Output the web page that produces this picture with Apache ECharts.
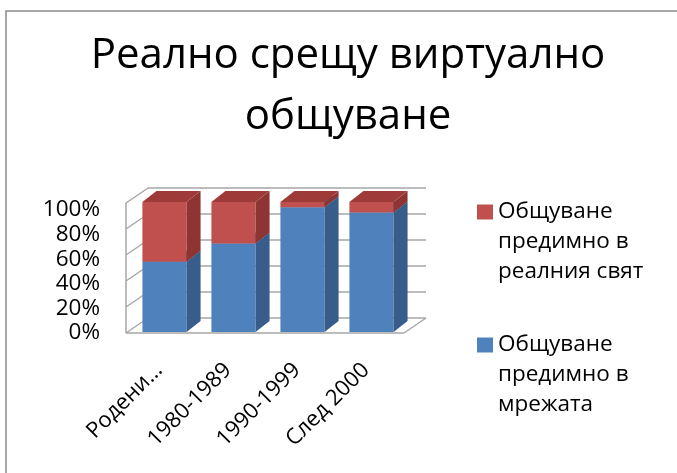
<!DOCTYPE html>
<html>
<head>
<meta charset="utf-8">
<script src="https://cdn.jsdelivr.net/npm/echarts@6/dist/echarts.min.js"></script>
<style>
  html, body { margin: 0; padding: 0; background: #ffffff; }
  #chart { width: 677px; height: 473px; }
</style>
</head>
<body>
<div id="chart"></div>
<script>
// Age groups and shares (percent) for each way of communicating
const categories = ['Родени…', '1980-1989', '1990-1999', 'След 2000'];
const onlineShare = [54, 68, 96, 92];   // Общуване предимно в мрежата
const offlineShare = [46, 32, 4, 8];    // Общуване предимно в реалния свят
const valueTicks = [0, 20, 40, 60, 80, 100];

const seriesNames = {
  online: 'Общуване предимно в мрежата',
  offline: 'Общуване предимно в реалния свят'
};

const FONT = 'Open Sans';

// pseudo-3D depth of the box walls and of the columns
const WALL_DX = 22, WALL_DY = -15;
const BAR_DX = 14, BAR_DY = -11;
const BAR_RATIO = 0.64;
const WALL_COLOR = '#a6a6a6';

function columnRenderer(front, side, top) {
  return function (params, api) {
    const cat = api.value(0);
    const lo = api.coord([cat, api.value(1)]);
    const hi = api.coord([cat, api.value(2)]);
    const w = api.size([1, 0])[0] * BAR_RATIO;
    const x0 = lo[0] - w / 2, x1 = lo[0] + w / 2;
    const yb = lo[1], yt = hi[1];
    return {
      type: 'group',
      children: [
        { type: 'rect', shape: { x: x0, y: yt, width: w, height: yb - yt }, style: { fill: front } },
        { type: 'polygon', shape: { points: [[x1, yt], [x1 + BAR_DX, yt + BAR_DY], [x1 + BAR_DX, yb + BAR_DY], [x1, yb]] }, style: { fill: side } },
        { type: 'polygon', shape: { points: [[x0, yt], [x1, yt], [x1 + BAR_DX, yt + BAR_DY], [x0 + BAR_DX, yt + BAR_DY]] }, style: { fill: top } }
      ]
    };
  };
}

function wallRenderer(params, api) {
  const cs = params.coordSys;
  const xL = cs.x - 4, xR = cs.x + cs.width - 2;
  const lineStyle = { stroke: WALL_COLOR, lineWidth: 1.5, fill: null };
  const children = [];
  const yOf = v => api.coord([0, v])[1] + 1;
  valueTicks.forEach(v => {
    const y = yOf(v);
    // back wall gridline
    children.push({ type: 'line', shape: { x1: xL + WALL_DX, y1: y + WALL_DY, x2: xR + WALL_DX, y2: y + WALL_DY }, style: lineStyle });
    // side wall gridline
    children.push({ type: 'line', shape: { x1: xL, y1: y, x2: xL + WALL_DX, y2: y + WALL_DY }, style: lineStyle });
  });
  const y0 = yOf(0), y100 = yOf(100);
  children.push({ type: 'line', shape: { x1: xL, y1: y0, x2: xL, y2: y100 }, style: lineStyle });
  children.push({ type: 'line', shape: { x1: xL, y1: y0, x2: xR, y2: y0 }, style: lineStyle });
  children.push({ type: 'line', shape: { x1: xR, y1: y0, x2: xR + WALL_DX, y2: y0 + WALL_DY }, style: lineStyle });
  return { type: 'group', children: children };
}

const onlineData = categories.map((c, i) => [i, 0, onlineShare[i]]);
const offlineData = categories.map((c, i) => [i, onlineShare[i], onlineShare[i] + offlineShare[i]]);

// legend text: first line level with the swatch, the rest wrapped below it
function wrapName(name) {
  return '\n\n' + name.replace(' предимно в ', '\nпредимно в\n');
}

const legendText = { fontFamily: FONT, fontSize: 22.5, color: '#000', lineHeight: 30 };

const chart = echarts.init(document.getElementById('chart'), null, { renderer: 'canvas' });
chart.setOption({
  backgroundColor: '#ffffff',
  animation: false,
  title: {
    text: 'Реално срещу виртуално\nобщуване',
    left: 343, top: 21, textAlign: 'center',
    textStyle: { fontFamily: FONT, fontSize: 42, fontWeight: 'normal', color: '#000', lineHeight: 61 }
  },
  legend: [
    {
      data: [seriesNames.offline], left: 477, top: 137, padding: 0,
      icon: 'rect', itemWidth: 16, itemHeight: 15,
      formatter: wrapName, textStyle: legendText, selectedMode: false
    },
    {
      data: [seriesNames.online], left: 477, top: 270, padding: 0,
      icon: 'rect', itemWidth: 16, itemHeight: 15,
      formatter: wrapName, textStyle: legendText, selectedMode: false
    }
  ],
  graphic: [
    { type: 'polyline', shape: { points: [[6, 473], [6, 11], [677, 11]] }, style: { stroke: '#8c8c8c', lineWidth: 1.5, fill: null }, silent: true }
  ],
  grid: [
    { left: 130, right: 271, top: 202, bottom: 141 },
    { left: 130, right: 271, top: 210, bottom: 140 }
  ],
  xAxis: [
    {
      type: 'category', gridIndex: 0, data: categories,
      axisLine: { show: false }, axisTick: { show: false },
      axisLabel: { rotate: 45, interval: 0, margin: 29, padding: [0, 8, 0, 0], fontFamily: FONT, fontSize: 22, color: '#000' }
    },
    { type: 'value', gridIndex: 1, show: false }
  ],
  yAxis: [
    { type: 'value', gridIndex: 0, min: 0, max: 100, interval: 20, show: false },
    {
      type: 'value', gridIndex: 1, min: 0, max: 100, interval: 20,
      axisLine: { show: false }, axisTick: { show: false }, splitLine: { show: false },
      axisLabel: { margin: 30, formatter: '{value}%', fontFamily: FONT, fontSize: 22.5, color: '#000' }
    }
  ],
  series: [
    {
      type: 'custom', name: 'walls', xAxisIndex: 0, yAxisIndex: 0, z: 1,
      renderItem: wallRenderer, data: [[0, 0]], silent: true
    },
    {
      type: 'custom', name: seriesNames.online, xAxisIndex: 0, yAxisIndex: 0, z: 2,
      itemStyle: { color: '#4f81bd' },
      encode: { x: 0, y: [1, 2] },
      renderItem: columnRenderer('#4f81bd', '#385d8a', '#4473ab'),
      data: onlineData
    },
    {
      type: 'custom', name: seriesNames.offline, xAxisIndex: 0, yAxisIndex: 0, z: 3,
      itemStyle: { color: '#c0504d' },
      encode: { x: 0, y: [1, 2] },
      renderItem: columnRenderer('#c0504d', '#8e3533', '#9e3b38'),
      data: offlineData
    }
  ]
});
</script>
</body>
</html>
